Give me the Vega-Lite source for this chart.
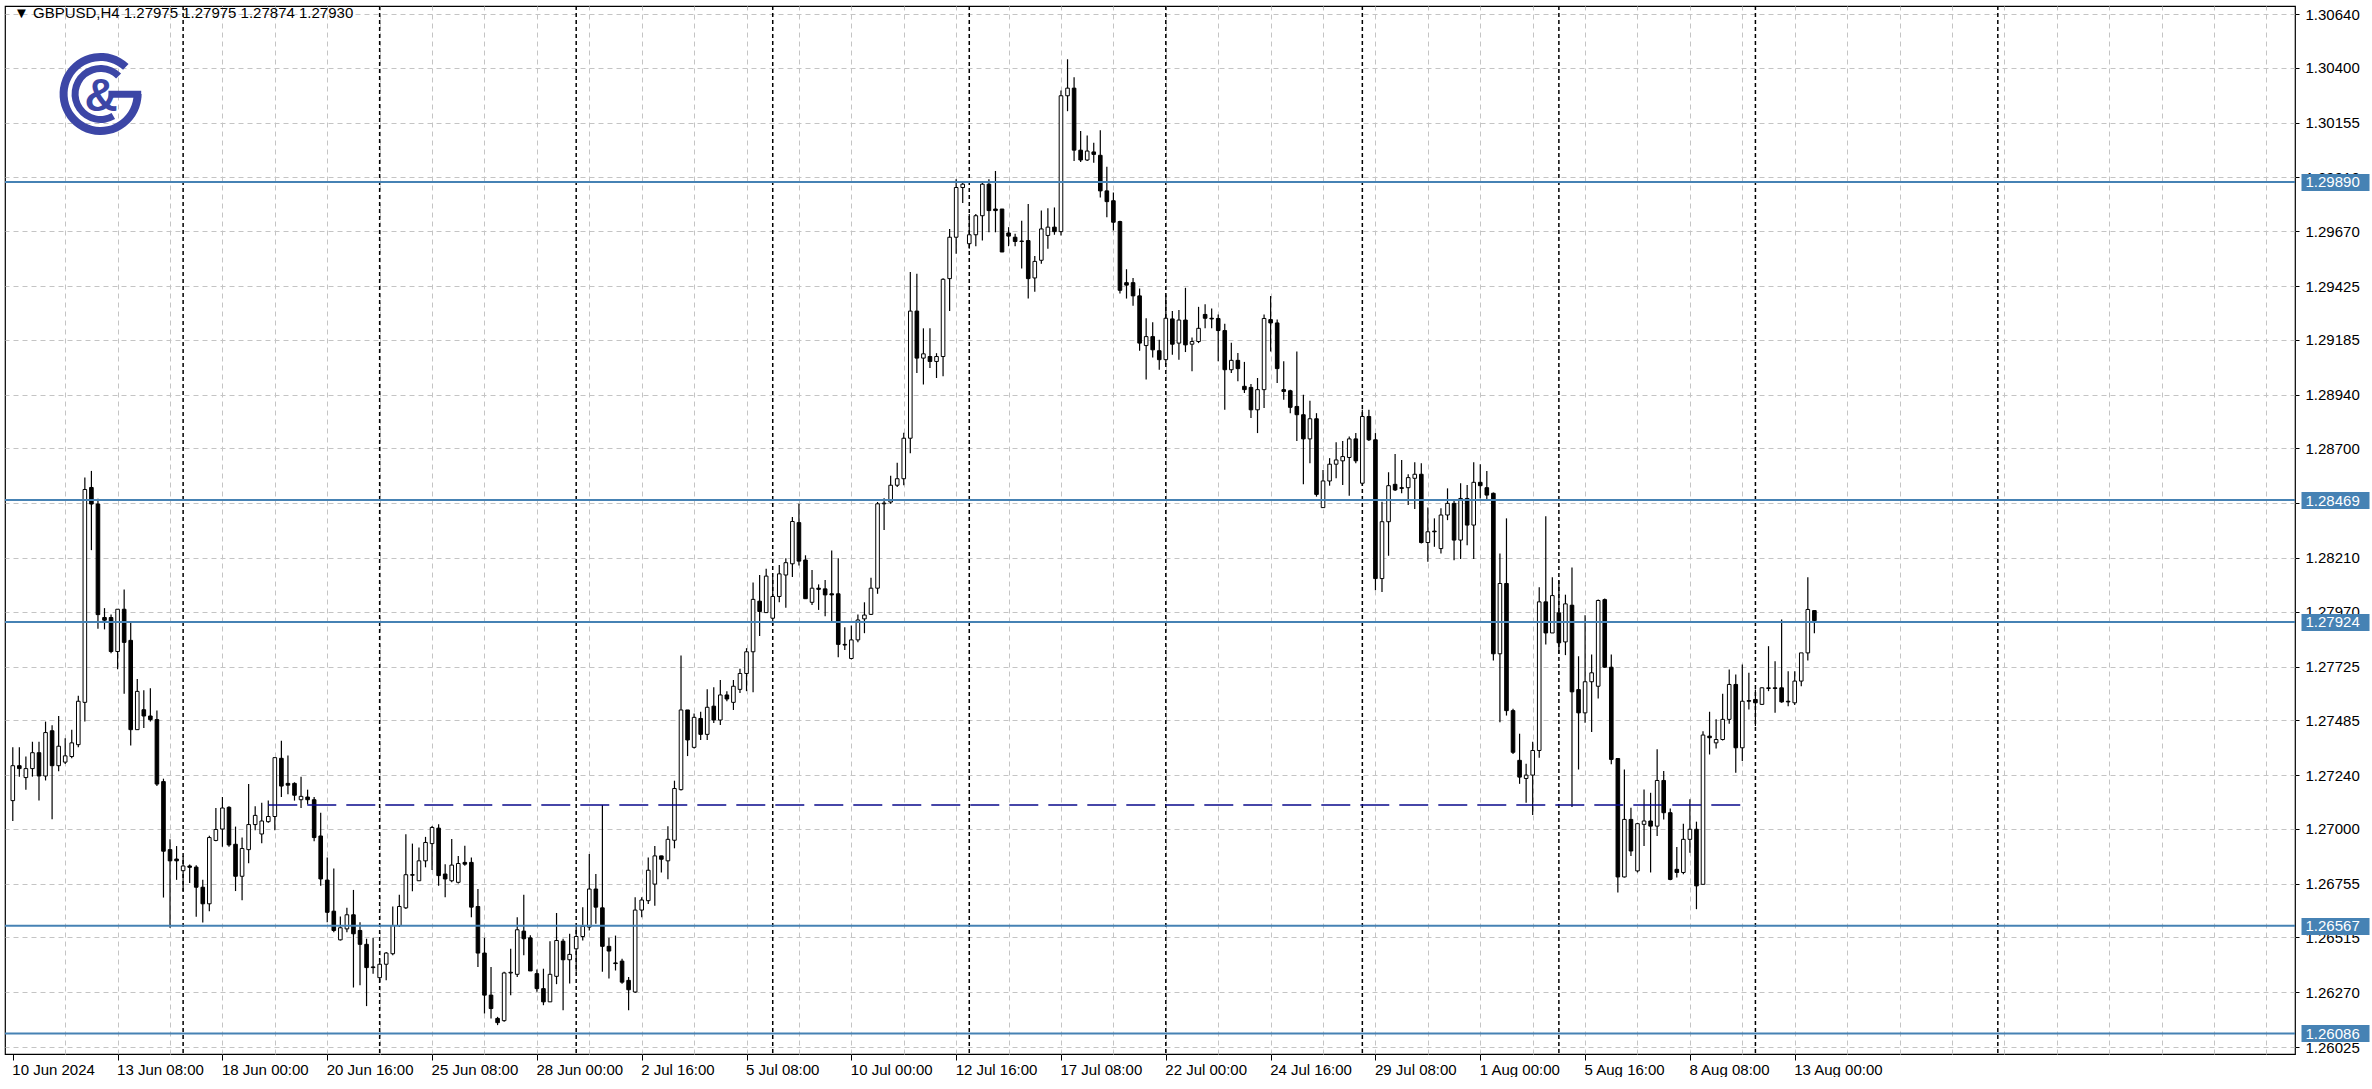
{
  "$schema": "https://vega.github.io/schema/vega-lite/v6.json",
  "width": 2290,
  "height": 1048,
  "padding": {"left": 4, "top": 5, "right": 0, "bottom": 0},
  "background": "white",
  "config": {
    "view": {"stroke": "#000000", "strokeWidth": 1.2},
    "font": "Liberation Sans"
  },
  "datasets": {
    "candles": [
      {"b":0,"o":1.27126,"h":1.27364,"l":1.27035,"c":1.27282},
      {"b":1,"o":1.27282,"h":1.27364,"l":1.27233,"c":1.27269},
      {"b":2,"o":1.27229,"h":1.27323,"l":1.27175,"c":1.27269},
      {"b":3,"o":1.27269,"h":1.27389,"l":1.27233,"c":1.27340},
      {"b":4,"o":1.27340,"h":1.27389,"l":1.27126,"c":1.27236},
      {"b":5,"o":1.27236,"h":1.27479,"l":1.27216,"c":1.27430},
      {"b":6,"o":1.27438,"h":1.27463,"l":1.27043,"c":1.27282},
      {"b":7,"o":1.27282,"h":1.27504,"l":1.27257,"c":1.27369},
      {"b":8,"o":1.27298,"h":1.27405,"l":1.27290,"c":1.27326},
      {"b":9,"o":1.27323,"h":1.27443,"l":1.27315,"c":1.27384},
      {"b":10,"o":1.27376,"h":1.27595,"l":1.27364,"c":1.27570},
      {"b":11,"o":1.27565,"h":1.28569,"l":1.27479,"c":1.28516},
      {"b":12,"o":1.28525,"h":1.28599,"l":1.28245,"c":1.28451},
      {"b":13,"o":1.28451,"h":1.28475,"l":1.27894,"c":1.27957},
      {"b":14,"o":1.27944,"h":1.27986,"l":1.27891,"c":1.27932},
      {"b":15,"o":1.27944,"h":1.27957,"l":1.27784,"c":1.27792},
      {"b":16,"o":1.27792,"h":1.27981,"l":1.27713,"c":1.27981},
      {"b":17,"o":1.27981,"h":1.28069,"l":1.27603,"c":1.27833},
      {"b":18,"o":1.27842,"h":1.27924,"l":1.27372,"c":1.27443},
      {"b":19,"o":1.27443,"h":1.27669,"l":1.27443,"c":1.27614},
      {"b":20,"o":1.27532,"h":1.27619,"l":1.27450,"c":1.27504},
      {"b":21,"o":1.27504,"h":1.27628,"l":1.27479,"c":1.27488},
      {"b":22,"o":1.27488,"h":1.27529,"l":1.27191,"c":1.27200},
      {"b":23,"o":1.27211,"h":1.27224,"l":1.26693,"c":1.26900},
      {"b":24,"o":1.26907,"h":1.26953,"l":1.26558,"c":1.26857},
      {"b":25,"o":1.26865,"h":1.26923,"l":1.26772,"c":1.26857},
      {"b":26,"o":1.26813,"h":1.26879,"l":1.26722,"c":1.26834},
      {"b":27,"o":1.26834,"h":1.26841,"l":1.26758,"c":1.26828},
      {"b":28,"o":1.26829,"h":1.26837,"l":1.26607,"c":1.26739},
      {"b":29,"o":1.26739,"h":1.26772,"l":1.26582,"c":1.26665},
      {"b":30,"o":1.26665,"h":1.26969,"l":1.26632,"c":1.26961},
      {"b":31,"o":1.26948,"h":1.27093,"l":1.26944,"c":1.26997},
      {"b":32,"o":1.26999,"h":1.27142,"l":1.26920,"c":1.27093},
      {"b":33,"o":1.27096,"h":1.27101,"l":1.26920,"c":1.26928},
      {"b":34,"o":1.26931,"h":1.27010,"l":1.26722,"c":1.26788},
      {"b":35,"o":1.26788,"h":1.26961,"l":1.26681,"c":1.26912},
      {"b":36,"o":1.26907,"h":1.27200,"l":1.26846,"c":1.27019},
      {"b":37,"o":1.27019,"h":1.27101,"l":1.26994,"c":1.27060},
      {"b":38,"o":1.26977,"h":1.27117,"l":1.26936,"c":1.27035},
      {"b":39,"o":1.27032,"h":1.27126,"l":1.27027,"c":1.27055},
      {"b":40,"o":1.27055,"h":1.27318,"l":1.26994,"c":1.27318},
      {"b":41,"o":1.27315,"h":1.27394,"l":1.27142,"c":1.27191},
      {"b":42,"o":1.27203,"h":1.27328,"l":1.27154,"c":1.27195},
      {"b":43,"o":1.27203,"h":1.27208,"l":1.27126,"c":1.27150},
      {"b":44,"o":1.27130,"h":1.27233,"l":1.27093,"c":1.27145},
      {"b":45,"o":1.27142,"h":1.27175,"l":1.27109,"c":1.27130},
      {"b":46,"o":1.27130,"h":1.27142,"l":1.26944,"c":1.26961},
      {"b":47,"o":1.26968,"h":1.27072,"l":1.26746,"c":1.26776},
      {"b":48,"o":1.26771,"h":1.26872,"l":1.26583,"c":1.26627},
      {"b":49,"o":1.26632,"h":1.26823,"l":1.26538,"c":1.26546},
      {"b":50,"o":1.26504,"h":1.26608,"l":1.26501,"c":1.26558},
      {"b":51,"o":1.26553,"h":1.26647,"l":1.26538,"c":1.26616},
      {"b":52,"o":1.26616,"h":1.26727,"l":1.26291,"c":1.26531},
      {"b":53,"o":1.26546,"h":1.26583,"l":1.26301,"c":1.26484},
      {"b":54,"o":1.26484,"h":1.26509,"l":1.26208,"c":1.26380},
      {"b":55,"o":1.26383,"h":1.26513,"l":1.26353,"c":1.26380},
      {"b":56,"o":1.26335,"h":1.26405,"l":1.26316,"c":1.26395},
      {"b":57,"o":1.26395,"h":1.26450,"l":1.26323,"c":1.26445},
      {"b":58,"o":1.26442,"h":1.26653,"l":1.26435,"c":1.26568},
      {"b":59,"o":1.26568,"h":1.26706,"l":1.26561,"c":1.26653},
      {"b":60,"o":1.26647,"h":1.26976,"l":1.26642,"c":1.26795},
      {"b":61,"o":1.26795,"h":1.26934,"l":1.26721,"c":1.26793},
      {"b":62,"o":1.26768,"h":1.26917,"l":1.26768,"c":1.26857},
      {"b":63,"o":1.26857,"h":1.26964,"l":1.26828,"c":1.26939},
      {"b":64,"o":1.26934,"h":1.27013,"l":1.26816,"c":1.27006},
      {"b":65,"o":1.27003,"h":1.27020,"l":1.26746,"c":1.26791},
      {"b":66,"o":1.26798,"h":1.26842,"l":1.26694,"c":1.26776},
      {"b":67,"o":1.26768,"h":1.26954,"l":1.26761,"c":1.26838},
      {"b":68,"o":1.26761,"h":1.26879,"l":1.26756,"c":1.26845},
      {"b":69,"o":1.26850,"h":1.26924,"l":1.26835,"c":1.26842},
      {"b":70,"o":1.26850,"h":1.26872,"l":1.26605,"c":1.26650},
      {"b":71,"o":1.26653,"h":1.26731,"l":1.26383,"c":1.26445},
      {"b":72,"o":1.26445,"h":1.26513,"l":1.26175,"c":1.26257},
      {"b":73,"o":1.26257,"h":1.26383,"l":1.26153,"c":1.26197},
      {"b":74,"o":1.26153,"h":1.26160,"l":1.26123,"c":1.26134},
      {"b":75,"o":1.26143,"h":1.26361,"l":1.26138,"c":1.26356},
      {"b":76,"o":1.26356,"h":1.26464,"l":1.26257,"c":1.26359},
      {"b":77,"o":1.26350,"h":1.26605,"l":1.26338,"c":1.26549},
      {"b":78,"o":1.26543,"h":1.26706,"l":1.26435,"c":1.26509},
      {"b":79,"o":1.26513,"h":1.26524,"l":1.26365,"c":1.26365},
      {"b":80,"o":1.26353,"h":1.26371,"l":1.26272,"c":1.26286},
      {"b":81,"o":1.26286,"h":1.26375,"l":1.26212,"c":1.26227},
      {"b":82,"o":1.26227,"h":1.26498,"l":1.26227,"c":1.26350},
      {"b":83,"o":1.26341,"h":1.26624,"l":1.26306,"c":1.26501},
      {"b":84,"o":1.26498,"h":1.26509,"l":1.26190,"c":1.26415},
      {"b":85,"o":1.26415,"h":1.26531,"l":1.26309,"c":1.26439},
      {"b":86,"o":1.26464,"h":1.26561,"l":1.26361,"c":1.26519},
      {"b":87,"o":1.26519,"h":1.26650,"l":1.26501,"c":1.26564},
      {"b":88,"o":1.26561,"h":1.26887,"l":1.26546,"c":1.26731},
      {"b":89,"o":1.26731,"h":1.26798,"l":1.26576,"c":1.26650},
      {"b":90,"o":1.26647,"h":1.27106,"l":1.26361,"c":1.26475},
      {"b":91,"o":1.26475,"h":1.26513,"l":1.26331,"c":1.26454},
      {"b":92,"o":1.26401,"h":1.26523,"l":1.26367,"c":1.26398},
      {"b":93,"o":1.26409,"h":1.26419,"l":1.26308,"c":1.26315},
      {"b":94,"o":1.26323,"h":1.26338,"l":1.26189,"c":1.26281},
      {"b":95,"o":1.26271,"h":1.26694,"l":1.26266,"c":1.26637},
      {"b":96,"o":1.26637,"h":1.26694,"l":1.26605,"c":1.26682},
      {"b":97,"o":1.26679,"h":1.26872,"l":1.26664,"c":1.26815},
      {"b":98,"o":1.26753,"h":1.26923,"l":1.26656,"c":1.26879},
      {"b":99,"o":1.26879,"h":1.26880,"l":1.26805,"c":1.26864},
      {"b":100,"o":1.26857,"h":1.27012,"l":1.26775,"c":1.26953},
      {"b":101,"o":1.26949,"h":1.27215,"l":1.26913,"c":1.27180},
      {"b":102,"o":1.27175,"h":1.27774,"l":1.27171,"c":1.27531},
      {"b":103,"o":1.27531,"h":1.27531,"l":1.27325,"c":1.27397},
      {"b":104,"o":1.27364,"h":1.27515,"l":1.27359,"c":1.27498},
      {"b":105,"o":1.27493,"h":1.27523,"l":1.27397,"c":1.27422},
      {"b":106,"o":1.27422,"h":1.27623,"l":1.27397,"c":1.27543},
      {"b":107,"o":1.27548,"h":1.27632,"l":1.27473,"c":1.27486},
      {"b":108,"o":1.27486,"h":1.27665,"l":1.27464,"c":1.27598},
      {"b":109,"o":1.27598,"h":1.27615,"l":1.27570,"c":1.27580},
      {"b":110,"o":1.27565,"h":1.27665,"l":1.27531,"c":1.27637},
      {"b":111,"o":1.27623,"h":1.27715,"l":1.27607,"c":1.27694},
      {"b":112,"o":1.27694,"h":1.27807,"l":1.27615,"c":1.27791},
      {"b":113,"o":1.27791,"h":1.28100,"l":1.27610,"c":1.28025},
      {"b":114,"o":1.28017,"h":1.28134,"l":1.27861,"c":1.27971},
      {"b":115,"o":1.27966,"h":1.28162,"l":1.27966,"c":1.28129},
      {"b":116,"o":1.27941,"h":1.28125,"l":1.27911,"c":1.28038},
      {"b":117,"o":1.28038,"h":1.28179,"l":1.28012,"c":1.28139},
      {"b":118,"o":1.28134,"h":1.28209,"l":1.27988,"c":1.28189},
      {"b":119,"o":1.28184,"h":1.28393,"l":1.28125,"c":1.28373},
      {"b":120,"o":1.28368,"h":1.28452,"l":1.28176,"c":1.28196},
      {"b":121,"o":1.28201,"h":1.28222,"l":1.28028,"c":1.28028},
      {"b":122,"o":1.28012,"h":1.28156,"l":1.28000,"c":1.28075},
      {"b":123,"o":1.28075,"h":1.28092,"l":1.27978,"c":1.28070},
      {"b":124,"o":1.28072,"h":1.28112,"l":1.27950,"c":1.28045},
      {"b":125,"o":1.28050,"h":1.28243,"l":1.27925,"c":1.28045},
      {"b":126,"o":1.28050,"h":1.28209,"l":1.27766,"c":1.27824},
      {"b":127,"o":1.27824,"h":1.27900,"l":1.27799,"c":1.27821},
      {"b":128,"o":1.27761,"h":1.27908,"l":1.27757,"c":1.27844},
      {"b":129,"o":1.27844,"h":1.27958,"l":1.27833,"c":1.27933},
      {"b":130,"o":1.27938,"h":1.28012,"l":1.27874,"c":1.27955},
      {"b":131,"o":1.27958,"h":1.28122,"l":1.27955,"c":1.28075},
      {"b":132,"o":1.28075,"h":1.28460,"l":1.28050,"c":1.28452},
      {"b":133,"o":1.28452,"h":1.28477,"l":1.28335,"c":1.28455},
      {"b":134,"o":1.28460,"h":1.28577,"l":1.28452,"c":1.28535},
      {"b":135,"o":1.28535,"h":1.28636,"l":1.28527,"c":1.28564},
      {"b":136,"o":1.28564,"h":1.28770,"l":1.28535,"c":1.28745},
      {"b":137,"o":1.28745,"h":1.29488,"l":1.28678,"c":1.29313},
      {"b":138,"o":1.29313,"h":1.29480,"l":1.29036,"c":1.29103},
      {"b":139,"o":1.29103,"h":1.29236,"l":1.28985,"c":1.29122},
      {"b":140,"o":1.29110,"h":1.29236,"l":1.29059,"c":1.29088},
      {"b":141,"o":1.29088,"h":1.29125,"l":1.29014,"c":1.29110},
      {"b":142,"o":1.29110,"h":1.29460,"l":1.29022,"c":1.29455},
      {"b":143,"o":1.29458,"h":1.29680,"l":1.29313,"c":1.29643},
      {"b":144,"o":1.29643,"h":1.29902,"l":1.29569,"c":1.29865},
      {"b":145,"o":1.29865,"h":1.29890,"l":1.29796,"c":1.29880},
      {"b":146,"o":1.29614,"h":1.29747,"l":1.29591,"c":1.29654},
      {"b":147,"o":1.29654,"h":1.29747,"l":1.29603,"c":1.29739},
      {"b":148,"o":1.29739,"h":1.29890,"l":1.29628,"c":1.29880},
      {"b":149,"o":1.29880,"h":1.29902,"l":1.29665,"c":1.29762},
      {"b":150,"o":1.29769,"h":1.29939,"l":1.29665,"c":1.29762},
      {"b":151,"o":1.29769,"h":1.29769,"l":1.29577,"c":1.29577},
      {"b":152,"o":1.29662,"h":1.29688,"l":1.29603,"c":1.29648},
      {"b":153,"o":1.29643,"h":1.29658,"l":1.29603,"c":1.29624},
      {"b":154,"o":1.29626,"h":1.29717,"l":1.29503,"c":1.29624},
      {"b":155,"o":1.29628,"h":1.29791,"l":1.29369,"c":1.29458},
      {"b":156,"o":1.29461,"h":1.29559,"l":1.29399,"c":1.29535},
      {"b":157,"o":1.29540,"h":1.29762,"l":1.29525,"c":1.29680},
      {"b":158,"o":1.29651,"h":1.29772,"l":1.29591,"c":1.29688},
      {"b":159,"o":1.29688,"h":1.29776,"l":1.29654,"c":1.29668},
      {"b":160,"o":1.29668,"h":1.30299,"l":1.29651,"c":1.30275},
      {"b":161,"o":1.30275,"h":1.30438,"l":1.30206,"c":1.30309},
      {"b":162,"o":1.30309,"h":1.30358,"l":1.29984,"c":1.30032},
      {"b":163,"o":1.30032,"h":1.30117,"l":1.29979,"c":1.29988},
      {"b":164,"o":1.29988,"h":1.30098,"l":1.29984,"c":1.30028},
      {"b":165,"o":1.30024,"h":1.30065,"l":1.29976,"c":1.30013},
      {"b":166,"o":1.30009,"h":1.30121,"l":1.29821,"c":1.29850},
      {"b":167,"o":1.29850,"h":1.29958,"l":1.29732,"c":1.29802},
      {"b":168,"o":1.29806,"h":1.29843,"l":1.29673,"c":1.29710},
      {"b":169,"o":1.29713,"h":1.29717,"l":1.29392,"c":1.29406},
      {"b":170,"o":1.29440,"h":1.29500,"l":1.29369,"c":1.29429},
      {"b":171,"o":1.29440,"h":1.29461,"l":1.29337,"c":1.29381},
      {"b":172,"o":1.29381,"h":1.29414,"l":1.29136,"c":1.29170},
      {"b":173,"o":1.29159,"h":1.29281,"l":1.29007,"c":1.29199},
      {"b":174,"o":1.29199,"h":1.29263,"l":1.29106,"c":1.29140},
      {"b":175,"o":1.29136,"h":1.29185,"l":1.29051,"c":1.29096},
      {"b":176,"o":1.29096,"h":1.29384,"l":1.29073,"c":1.29281},
      {"b":177,"o":1.29278,"h":1.29313,"l":1.29118,"c":1.29165},
      {"b":178,"o":1.29170,"h":1.29318,"l":1.29096,"c":1.29273},
      {"b":179,"o":1.29273,"h":1.29417,"l":1.29130,"c":1.29162},
      {"b":180,"o":1.29165,"h":1.29195,"l":1.29044,"c":1.29177},
      {"b":181,"o":1.29177,"h":1.29332,"l":1.29170,"c":1.29236},
      {"b":182,"o":1.29298,"h":1.29343,"l":1.29236,"c":1.29281},
      {"b":183,"o":1.29281,"h":1.29325,"l":1.29236,"c":1.29278},
      {"b":184,"o":1.29280,"h":1.29298,"l":1.29089,"c":1.29226},
      {"b":185,"o":1.29226,"h":1.29256,"l":1.28872,"c":1.29051},
      {"b":186,"o":1.29051,"h":1.29171,"l":1.29036,"c":1.29093},
      {"b":187,"o":1.29093,"h":1.29126,"l":1.28999,"c":1.29056},
      {"b":188,"o":1.28977,"h":1.29086,"l":1.28947,"c":1.28962},
      {"b":189,"o":1.28972,"h":1.28987,"l":1.28835,"c":1.28872},
      {"b":190,"o":1.28872,"h":1.29014,"l":1.28768,"c":1.28962},
      {"b":191,"o":1.28962,"h":1.29298,"l":1.28880,"c":1.29280},
      {"b":192,"o":1.29275,"h":1.29380,"l":1.29133,"c":1.29260},
      {"b":193,"o":1.29260,"h":1.29275,"l":1.28992,"c":1.29056},
      {"b":194,"o":1.28962,"h":1.29089,"l":1.28917,"c":1.28954},
      {"b":195,"o":1.28957,"h":1.28962,"l":1.28857,"c":1.28883},
      {"b":196,"o":1.28887,"h":1.29133,"l":1.28733,"c":1.28850},
      {"b":197,"o":1.28850,"h":1.28939,"l":1.28539,"c":1.28742},
      {"b":198,"o":1.28742,"h":1.28912,"l":1.28633,"c":1.28832},
      {"b":199,"o":1.28832,"h":1.28857,"l":1.28484,"c":1.28494},
      {"b":200,"o":1.28435,"h":1.28603,"l":1.28435,"c":1.28554},
      {"b":201,"o":1.28554,"h":1.28656,"l":1.28533,"c":1.28629},
      {"b":202,"o":1.28629,"h":1.28727,"l":1.28566,"c":1.28648},
      {"b":203,"o":1.28644,"h":1.28733,"l":1.28536,"c":1.28663},
      {"b":204,"o":1.28659,"h":1.28753,"l":1.28488,"c":1.28742},
      {"b":205,"o":1.28742,"h":1.28768,"l":1.28633,"c":1.28644},
      {"b":206,"o":1.28544,"h":1.28872,"l":1.28533,"c":1.28842},
      {"b":207,"o":1.28842,"h":1.28872,"l":1.28733,"c":1.28738},
      {"b":208,"o":1.28738,"h":1.28768,"l":1.28066,"c":1.28118},
      {"b":209,"o":1.28118,"h":1.28461,"l":1.28058,"c":1.28372},
      {"b":210,"o":1.28372,"h":1.28593,"l":1.28220,"c":1.28533},
      {"b":211,"o":1.28539,"h":1.28674,"l":1.28509,"c":1.28514},
      {"b":212,"o":1.28524,"h":1.28648,"l":1.28499,"c":1.28521},
      {"b":213,"o":1.28524,"h":1.28584,"l":1.28447,"c":1.28569},
      {"b":214,"o":1.28566,"h":1.28638,"l":1.28429,"c":1.28584},
      {"b":215,"o":1.28584,"h":1.28633,"l":1.28275,"c":1.28279},
      {"b":216,"o":1.28279,"h":1.28435,"l":1.28193,"c":1.28327},
      {"b":217,"o":1.28330,"h":1.28387,"l":1.28260,"c":1.28327},
      {"b":218,"o":1.28252,"h":1.28432,"l":1.28230,"c":1.28402},
      {"b":219,"o":1.28402,"h":1.28521,"l":1.28379,"c":1.28454},
      {"b":220,"o":1.28454,"h":1.28469,"l":1.28200,"c":1.28290},
      {"b":221,"o":1.28290,"h":1.28544,"l":1.28205,"c":1.28476},
      {"b":222,"o":1.28476,"h":1.28536,"l":1.28267,"c":1.28357},
      {"b":223,"o":1.28357,"h":1.28638,"l":1.28205,"c":1.28548},
      {"b":224,"o":1.28548,"h":1.28629,"l":1.28476,"c":1.28533},
      {"b":225,"o":1.28524,"h":1.28599,"l":1.28473,"c":1.28491},
      {"b":226,"o":1.28499,"h":1.28503,"l":1.27752,"c":1.27782},
      {"b":227,"o":1.27782,"h":1.28230,"l":1.27476,"c":1.28096},
      {"b":228,"o":1.28096,"h":1.28387,"l":1.27506,"c":1.27528},
      {"b":229,"o":1.27528,"h":1.27536,"l":1.27334,"c":1.27342},
      {"b":230,"o":1.27306,"h":1.27425,"l":1.27201,"c":1.27231},
      {"b":231,"o":1.27225,"h":1.27291,"l":1.27117,"c":1.27240},
      {"b":232,"o":1.27240,"h":1.27389,"l":1.27062,"c":1.27350},
      {"b":233,"o":1.27350,"h":1.28079,"l":1.27317,"c":1.28014},
      {"b":234,"o":1.28014,"h":1.28396,"l":1.27823,"c":1.27875},
      {"b":235,"o":1.27875,"h":1.28124,"l":1.27875,"c":1.28042},
      {"b":236,"o":1.27965,"h":1.28109,"l":1.27782,"c":1.27831},
      {"b":237,"o":1.27835,"h":1.28046,"l":1.27776,"c":1.28005},
      {"b":238,"o":1.27999,"h":1.28168,"l":1.27097,"c":1.27612},
      {"b":239,"o":1.27622,"h":1.27771,"l":1.27265,"c":1.27518},
      {"b":240,"o":1.27518,"h":1.27954,"l":1.27474,"c":1.27657},
      {"b":241,"o":1.27657,"h":1.27779,"l":1.27433,"c":1.27697},
      {"b":242,"o":1.27637,"h":1.28024,"l":1.27582,"c":1.28020},
      {"b":243,"o":1.28024,"h":1.28029,"l":1.27719,"c":1.27722},
      {"b":244,"o":1.27722,"h":1.27779,"l":1.27288,"c":1.27310},
      {"b":245,"o":1.27314,"h":1.27314,"l":1.26715,"c":1.26785},
      {"b":246,"o":1.26785,"h":1.27265,"l":1.26782,"c":1.27042},
      {"b":247,"o":1.27042,"h":1.27094,"l":1.26879,"c":1.26901},
      {"b":248,"o":1.26812,"h":1.27027,"l":1.26805,"c":1.27023},
      {"b":249,"o":1.27020,"h":1.27176,"l":1.26923,"c":1.27035},
      {"b":250,"o":1.27035,"h":1.27161,"l":1.26805,"c":1.27012},
      {"b":251,"o":1.27012,"h":1.27355,"l":1.26968,"c":1.27216},
      {"b":252,"o":1.27216,"h":1.27258,"l":1.27042,"c":1.27072},
      {"b":253,"o":1.27072,"h":1.27091,"l":1.26770,"c":1.26774},
      {"b":254,"o":1.26819,"h":1.26919,"l":1.26782,"c":1.26805},
      {"b":255,"o":1.26805,"h":1.27023,"l":1.26797,"c":1.26953},
      {"b":256,"o":1.26953,"h":1.27132,"l":1.26893,"c":1.26998},
      {"b":257,"o":1.26998,"h":1.27032,"l":1.26641,"c":1.26745},
      {"b":258,"o":1.26752,"h":1.27436,"l":1.26752,"c":1.27419},
      {"b":259,"o":1.27414,"h":1.27523,"l":1.27332,"c":1.27407},
      {"b":260,"o":1.27384,"h":1.27489,"l":1.27359,"c":1.27399},
      {"b":261,"o":1.27399,"h":1.27603,"l":1.27395,"c":1.27489},
      {"b":262,"o":1.27489,"h":1.27712,"l":1.27469,"c":1.27645},
      {"b":263,"o":1.27645,"h":1.27689,"l":1.27251,"c":1.27362},
      {"b":264,"o":1.27362,"h":1.27734,"l":1.27303,"c":1.27570},
      {"b":265,"o":1.27573,"h":1.27697,"l":1.27533,"c":1.27570},
      {"b":266,"o":1.27578,"h":1.27622,"l":1.27459,"c":1.27563},
      {"b":267,"o":1.27556,"h":1.27633,"l":1.27553,"c":1.27630},
      {"b":268,"o":1.27627,"h":1.27816,"l":1.27615,"c":1.27630},
      {"b":269,"o":1.27630,"h":1.27749,"l":1.27518,"c":1.27627},
      {"b":270,"o":1.27630,"h":1.27935,"l":1.27563,"c":1.27567},
      {"b":271,"o":1.27570,"h":1.27704,"l":1.27548,"c":1.27567},
      {"b":272,"o":1.27563,"h":1.27704,"l":1.27553,"c":1.27660},
      {"b":273,"o":1.27660,"h":1.27786,"l":1.27637,"c":1.27786},
      {"b":274,"o":1.27786,"h":1.28124,"l":1.27752,"c":1.27980},
      {"b":275,"o":1.27975,"h":1.27975,"l":1.27874,"c":1.27930}
    ],
    "levels": [{"p":1.29890},{"p":1.28469},{"p":1.27924},{"p":1.26567},{"p":1.26086}],
    "seps": [{"b":26},{"b":56},{"b":86},{"b":116},{"b":146},{"b":176},{"b":206},{"b":236},{"b":266},{"b":303}],
    "trend": [{"b1":39,"b2":265,"p":1.27106}],
    "one": [{}]
  },
  "resolve": {"axis": {"x": "independent", "y": "independent"}},
  "layer": [
    {
      "data": {"name": "seps"},
      "mark": {"type": "rule", "color": "#000000", "strokeWidth": 1.5, "strokeDash": [4, 3]},
      "encoding": {
        "x": {"field": "b", "type": "quantitative", "title": null,
          "scale": {"domain": [-0.4255, 347.6], "nice": false, "zero": false},
          "axis": {
            "orient": "bottom",
            "values": [8,16,24,32,40,48,56,64,72,80,88,96,104,112,120,128,136,144,152,160,168,176,184,192,200,208,216,224,232,240,248,256,264,272,280,288,296,304,312,320,328,336,344],
            "grid": true, "gridColor": "#c4c4c4", "gridDash": [5, 4], "gridWidth": 1,
            "domain": false, "ticks": false, "labels": false, "zindex": 0
          }
        }
      }
    },
    {
      "data": {"name": "candles"},
      "mark": {"type": "rule", "color": "#000000", "strokeWidth": 1.2},
      "encoding": {
        "x": {"field": "b", "type": "quantitative", "title": null,
          "scale": {"domain": [-0.4255, 347.6], "nice": false, "zero": false},
          "axis": {
            "orient": "bottom",
            "values": [0,16,32,48,64,80,96,112,128,144,160,176,192,208,224,240,256,272],
            "grid": false, "domain": false,
            "tickColor": "#000000", "tickSize": 6,
            "labelExpr": "['10 Jun 2024','13 Jun 08:00','18 Jun 00:00','20 Jun 16:00','25 Jun 08:00','28 Jun 00:00','2 Jul 16:00','5 Jul 08:00','10 Jul 00:00','12 Jul 16:00','17 Jul 08:00','22 Jul 00:00','24 Jul 16:00','29 Jul 08:00','1 Aug 00:00','5 Aug 16:00','8 Aug 08:00','13 Aug 00:00'][round(datum.value / 16)]",
            "labelAlign": "left", "labelOffset": -1, "labelPadding": 2,
            "labelFont": "Liberation Sans", "labelFontSize": 15, "labelColor": "#000000",
            "labelOverlap": false, "labelBound": false, "labelFlush": false
          }
        },
        "y": {"field": "l", "type": "quantitative", "title": null,
          "scale": {"domain": [1.25994, 1.30676], "nice": false, "zero": false},
          "axis": {
            "orient": "right",
            "values": [1.26025,1.26270,1.26515,1.26755,1.27000,1.27240,1.27485,1.27725,1.27970,1.28210,1.28455,1.28700,1.28940,1.29185,1.29425,1.29670,1.29910,1.30155,1.30400,1.30640],
            "format": ".5f",
            "grid": true, "gridColor": "#c4c4c4", "gridDash": [5, 4], "gridWidth": 1,
            "domain": false, "tickColor": "#000000", "tickSize": 4,
            "labelPadding": 6, "labelFont": "Liberation Sans", "labelFontSize": 15, "labelColor": "#000000",
            "labelOverlap": false, "labelBound": false, "labelFlush": false, "zindex": 0
          }
        },
        "y2": {"field": "h"}
      }
    },
    {
      "data": {"name": "candles"},
      "mark": {"type": "bar", "width": 3.6, "stroke": "#000000", "strokeWidth": 1},
      "encoding": {
        "x": {"field": "b", "type": "quantitative", "axis": null},
        "y": {"field": "o", "type": "quantitative", "axis": null},
        "y2": {"field": "c"},
        "fill": {"condition": {"test": "datum.c < datum.o", "value": "#000000"}, "value": "#ffffff"}
      }
    },
    {
      "data": {"name": "trend"},
      "mark": {"type": "rule", "color": "#0a0a8c", "strokeWidth": 1.5, "strokeDash": [29, 10]},
      "encoding": {
        "x": {"field": "b1", "type": "quantitative", "axis": null},
        "x2": {"field": "b2"},
        "y": {"field": "p", "type": "quantitative", "axis": null}
      }
    },
    {
      "data": {"name": "levels"},
      "mark": {"type": "rule", "color": "#4682b4", "strokeWidth": 2},
      "encoding": {
        "y": {"field": "p", "type": "quantitative", "title": null,
          "axis": {
            "orient": "right",
            "values": [1.29890, 1.28469, 1.27924, 1.26567, 1.26086],
            "format": ".5f", "grid": false, "domain": false,
            "offset": 6, "tickSize": 68, "tickWidth": 17, "tickColor": "#4682b4", "tickCap": "butt",
            "labelPadding": -64, "labelColor": "#ffffff", "labelFont": "Liberation Sans", "labelFontSize": 15,
            "labelOverlap": false, "labelBound": false, "labelFlush": false, "zindex": 3
          }
        }
      }
    },
    {
      "data": {"name": "one"},
      "mark": {"type": "text", "text": "▼ GBPUSD,H4  1.27975 1.27975 1.27874 1.27930", "font": "Liberation Sans", "fontSize": 15, "color": "#000000", "align": "left", "baseline": "middle"},
      "encoding": {
        "x": {"datum": 0.18, "type": "quantitative", "axis": null},
        "y": {"datum": 1.30645, "type": "quantitative", "axis": null}
      }
    },
    {
      "data": {"name": "one"},
      "mark": {"type": "arc", "radius": 41, "radius2": 33, "theta": 1.5708, "theta2": 7.0337, "color": "#3c46a6"},
      "encoding": {
        "x": {"datum": 13.4, "type": "quantitative", "axis": null},
        "y": {"datum": 1.30283, "type": "quantitative", "axis": null}
      }
    },
    {
      "data": {"name": "one"},
      "mark": {"type": "arc", "radius": 29, "radius2": 22, "theta": 2.618, "theta2": 7.0686, "color": "#3c46a6"},
      "encoding": {
        "x": {"datum": 13.4, "type": "quantitative", "axis": null},
        "y": {"datum": 1.30283, "type": "quantitative", "axis": null}
      }
    },
    {
      "data": {"name": "one"},
      "mark": {"type": "rule", "color": "#3c46a6", "strokeWidth": 7},
      "encoding": {
        "x": {"datum": 14.6, "type": "quantitative", "axis": null},
        "x2": {"datum": 19.6},
        "y": {"datum": 1.30282, "type": "quantitative", "axis": null}
      }
    },
    {
      "data": {"name": "one"},
      "mark": {"type": "text", "text": "&", "font": "Liberation Sans", "fontSize": 46, "fontWeight": "bold", "color": "#3c46a6", "align": "center", "baseline": "alphabetic"},
      "encoding": {
        "x": {"datum": 13.5, "type": "quantitative", "axis": null},
        "y": {"datum": 1.30205, "type": "quantitative", "axis": null}
      }
    }
  ]
}
